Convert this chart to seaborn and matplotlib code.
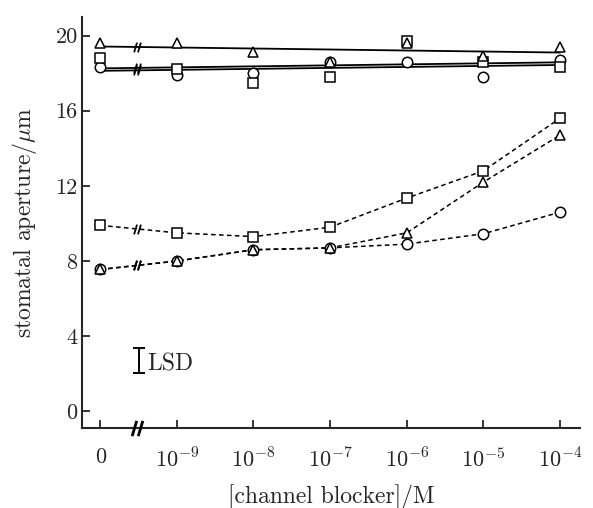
import numpy as np
import pandas as pd
import matplotlib
matplotlib.use("Agg")
import matplotlib.pyplot as plt
from matplotlib.path import Path
import seaborn as sns

# x positions are equally spaced categories (0, 1e-9 ... 1e-4 M)
positions = [0, 1, 2, 3, 4, 5, 6]
tick_labels = ["0", r"$10^{-9}$", r"$10^{-8}$", r"$10^{-7}$",
               r"$10^{-6}$", r"$10^{-5}$", r"$10^{-4}$"]
y_ticks = [0, 4, 8, 12, 16, 20]

# upper group (solid regression lines)
tri_solid = [19.6, 19.6, 19.1, 18.6, 19.6, 18.9, 19.4]
circ_solid = [18.35, 17.9, 18.0, 18.6, 18.6, 17.8, 18.7]
sq_solid = [18.8, 18.2, 17.5, 17.8, 19.7, 18.6, 18.3]

# lower group (dashed curves)
sq_dash = [9.9, 9.5, 9.3, 9.8, 11.35, 12.8, 15.6]
tri_dash = [7.55, 8.0, 8.6, 8.7, 9.5, 12.2, 14.7]
circ_dash = [7.55, 8.0, 8.6, 8.7, 8.9, 9.45, 10.6]

lsd = 1.3

sns.set_style("ticks")
plt.rcParams["font.family"] = "serif"
plt.rcParams["font.serif"] = ["cmr10", "DejaVu Serif"]
plt.rcParams["mathtext.fontset"] = "cm"
plt.rcParams["axes.unicode_minus"] = False
plt.rcParams["axes.formatter.use_mathtext"] = True

fig = plt.figure(figsize=(5.93, 5.08), dpi=100)
ax = fig.add_axes([0.138, 0.157, 0.84, 0.81])

# "//" break marker
brk = Path([(-0.7, -1), (-0.1, 1), (0.1, -1), (0.7, 1)],
           [Path.MOVETO, Path.LINETO, Path.MOVETO, Path.LINETO])
x_break = 0.48

mk = dict(markerfacecolor="white", markeredgecolor="black",
          markeredgewidth=1.1, linestyle="none", zorder=5)
shapes = {"tri": ("^", 7), "circ": ("o", 7.5), "sq": ("s", 7)}

# solid fitted lines
for name, vals in [("tri", tri_solid), ("circ", circ_solid), ("sq", sq_solid)]:
    df = pd.DataFrame({"x": positions, "y": vals})
    sns.regplot(data=df, x="x", y="y", ax=ax, ci=None, scatter=False,
                truncate=True, line_kws=dict(color="black", lw=1.3, zorder=2))
    b, a = np.polyfit(positions, vals, 1)
    ax.plot([x_break], [a + b * x_break], marker=brk, markersize=7,
            markeredgewidth=1.3, color="black", linestyle="none", zorder=4)

# dashed curves
for name, vals in [("sq", sq_dash), ("tri", tri_dash), ("circ", circ_dash)]:
    df = pd.DataFrame({"x": positions, "y": vals})
    sns.lineplot(data=df, x="x", y="y", ax=ax, color="black", lw=1.1,
                 zorder=2).lines[-1].set_dashes([3, 2.2])
    ax.plot([x_break], [vals[0] + (vals[1] - vals[0]) * x_break], marker=brk,
            markersize=7, markeredgewidth=1.3, color="black",
            linestyle="none", zorder=4)

# markers
for name, vals in [("circ", circ_solid), ("sq", sq_solid), ("tri", tri_solid),
                   ("circ", circ_dash), ("sq", sq_dash), ("tri", tri_dash)]:
    m, s = shapes[name]
    ax.plot(positions, vals, marker=m, markersize=s, **mk)

# LSD bar
ax.errorbar([0.5], [2.7], yerr=lsd / 2, color="black", lw=1.4,
            capsize=4, capthick=1.4)
ax.text(0.62, 2.5, "LSD", ha="left", va="center", fontsize=17)

ax.set_xlim(-0.24, 6.26)
ax.set_ylim(-0.9, 21)
ax.set_xticks(positions)
ax.set_xticklabels(tick_labels, fontsize=16)
ax.set_yticks(y_ticks)
ax.set_yticklabels([str(v) for v in y_ticks], fontsize=16)
ax.tick_params(direction="in", length=6, width=1.3, pad=14)
ax.tick_params(axis="y", pad=3)
ax.set_ylabel(r"stomatal aperture/$\mu$m", fontsize=17, labelpad=12)
for sp in ["top", "right"]:
    ax.spines[sp].set_visible(False)
for sp in ["left", "bottom"]:
    ax.spines[sp].set_linewidth(1.5)

# axis break on x axis
ax.plot([x_break], [-0.9], marker=brk, markersize=11, markeredgewidth=2,
        color="black", linestyle="none", clip_on=False, zorder=6)

ax.set_xlabel("[channel blocker]/M", fontsize=17, labelpad=9)

fig.savefig("out.png", dpi=100)
